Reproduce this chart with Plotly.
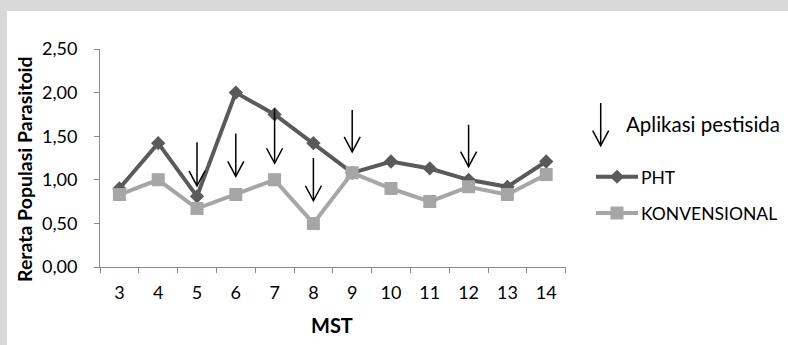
import plotly.graph_objects as go

# --- data -------------------------------------------------------------
weeks = [3, 4, 5, 6, 7, 8, 9, 10, 11, 12, 13, 14]
pht = [0.90, 1.42, 0.81, 2.00, 1.75, 1.42, 1.08, 1.21, 1.13, 1.00, 0.92, 1.21]
konvensional = [0.83, 1.00, 0.67, 0.83, 1.00, 0.50, 1.08, 0.90, 0.75, 0.92, 0.83, 1.06]

# weeks with a pesticide application, and where each arrow starts / points to
spray_weeks = [5, 6, 7, 8, 9, 12]
arrow_top = [1.43, 1.53, 1.82, 1.25, 1.80, 1.63]
arrow_tip = [0.93, 1.04, 1.19, 0.76, 1.32, 1.15]

y_ticks = [0.0, 0.5, 1.0, 1.5, 2.0, 2.5]

# --- layout geometry (pixels) -----------------------------------------
W, H = 788, 345
PLOT_L, PLOT_R, PLOT_T, PLOT_B = 100, 565.6, 49, 267

def px(x):
    return x / W

def py(y):
    return 1 - y / H

FONT = "Lato"
DARK = "#5a5a5a"
LIGHT = "#a6a6a6"
AXIS = "#8a8a8a"

fig = go.Figure()

fig.add_trace(go.Scatter(
    x=weeks, y=pht, name="PHT", mode="lines+markers",
    line=dict(color=DARK, width=4),
    marker=dict(symbol="diamond", size=11, color=DARK),
))
fig.add_trace(go.Scatter(
    x=weeks, y=konvensional, name="KONVENSIONAL", mode="lines+markers",
    line=dict(color=LIGHT, width=4),
    marker=dict(symbol="square", size=13, color=LIGHT),
))

# arrow geometry converted from pixels into data units
x_unit = (PLOT_R - PLOT_L) / len(weeks)      # px per week
y_unit = (PLOT_B - PLOT_T) / y_ticks[-1]     # px per unit value
head_dx = 8 / x_unit
head_dy = 15 / y_unit

shapes = []
# white chart sheet over the grey page
shapes.append(dict(type="rect", xref="paper", yref="paper",
                   x0=px(7), x1=1, y0=0, y1=py(11),
                   fillcolor="white", line=dict(width=0), layer="below"))

arrow_line = dict(color="black", width=1.5)
for wk, top, tip in zip(spray_weeks, arrow_top, arrow_tip):
    shapes.append(dict(type="line", xref="x", yref="y",
                       x0=wk, x1=wk, y0=top, y1=tip, line=arrow_line))
    shapes.append(dict(type="path", xref="x", yref="y",
                       path=f"M {wk - head_dx},{tip + head_dy} L {wk},{tip} L {wk + head_dx},{tip + head_dy}",
                       line=arrow_line))

# legend: arrow key
lx, ltop, ltip = 600.7, 103, 145.7
shapes.append(dict(type="line", xref="paper", yref="paper",
                   x0=px(lx), x1=px(lx), y0=py(ltop), y1=py(ltip), line=arrow_line))
shapes.append(dict(type="path", xref="paper", yref="paper",
                   path=f"M {px(lx - 8)},{py(ltip - 15)} L {px(lx)},{py(ltip)} L {px(lx + 8)},{py(ltip - 15)}",
                   line=arrow_line))

# legend: series keys (line sample with its marker in the middle)
key_x0, key_xm, key_x1 = 596, 617, 638
for col, sym, yy in [(DARK, "diamond", 176.7), (LIGHT, "square", 213)]:
    shapes.append(dict(type="line", xref="paper", yref="paper",
                       x0=px(key_x0), x1=px(key_x1), y0=py(yy), y1=py(yy),
                       line=dict(color=col, width=4)))
    if sym == "diamond":
        r = 7
        path = (f"M {px(key_xm - r)},{py(yy)} L {px(key_xm)},{py(yy - r)} "
                f"L {px(key_xm + r)},{py(yy)} L {px(key_xm)},{py(yy + r)} Z")
        shapes.append(dict(type="path", xref="paper", yref="paper", path=path,
                           fillcolor=col, line=dict(width=0)))
    else:
        h = 6.5
        shapes.append(dict(type="rect", xref="paper", yref="paper",
                           x0=px(key_xm - h), x1=px(key_xm + h),
                           y0=py(yy + h), y1=py(yy - h),
                           fillcolor=col, line=dict(width=0)))

annotations = [
    dict(text="Aplikasi pestisida", xref="paper", yref="paper", x=px(624), y=py(124),
         xanchor="left", yanchor="middle", showarrow=False,
         font=dict(family=FONT, size=20.5, color="black")),
    dict(text="PHT", xref="paper", yref="paper", x=px(639), y=py(177),
         xanchor="left", yanchor="middle", showarrow=False,
         font=dict(family=FONT, size=17.5, color="black")),
    dict(text="KONVENSIONAL", xref="paper", yref="paper", x=px(639), y=py(213),
         xanchor="left", yanchor="middle", showarrow=False,
         font=dict(family=FONT, size=17.5, color="black")),
    dict(text="<b>MST</b>", xref="paper", yref="paper", x=px(332), y=py(325),
         xanchor="center", yanchor="middle", showarrow=False,
         font=dict(family=FONT, size=20, color="black")),
    dict(text="<b>Rerata Populasi Parasitoid</b>", xref="paper", yref="paper",
         x=px(24), y=py(169), textangle=-90,
         xanchor="center", yanchor="middle", showarrow=False,
         font=dict(family=FONT, size=19.5, color="black")),
]

fig.update_layout(
    width=W, height=H,
    margin=dict(l=0, r=0, t=0, b=0),
    paper_bgcolor="#d9d9d9",
    plot_bgcolor="rgba(0,0,0,0)",
    showlegend=False,
    separators=",.",
    font=dict(family=FONT, size=18, color="black"),
    shapes=shapes,
    annotations=annotations,
    xaxis=dict(
        domain=[px(PLOT_L), px(PLOT_R)],
        range=[weeks[0] - 0.5, weeks[-1] + 0.5],
        tickvals=weeks, ticktext=[str(w) for w in weeks],
        ticks="outside", ticklen=0, tickcolor="rgba(0,0,0,0)",
        ticklabelstandoff=9,
        minor=dict(tick0=weeks[0] - 0.5, dtick=1, ticks="outside", ticklen=5,
                   tickcolor=AXIS, showgrid=False),
        showline=True, linecolor=AXIS, linewidth=1,
        showgrid=False, zeroline=False, automargin=False, fixedrange=True,
        tickfont=dict(family=FONT, size=18),
    ),
    yaxis=dict(
        domain=[py(PLOT_B), py(PLOT_T)],
        range=[y_ticks[0], y_ticks[-1]],
        tickvals=y_ticks, tickformat=".2f",
        ticks="outside", ticklen=5, tickcolor=AXIS,
        ticklabelstandoff=13,
        showline=True, linecolor=AXIS, linewidth=1,
        showgrid=False, zeroline=False, automargin=False, fixedrange=True,
        tickfont=dict(family=FONT, size=18),
    ),
)

fig.write_html("out.html")
